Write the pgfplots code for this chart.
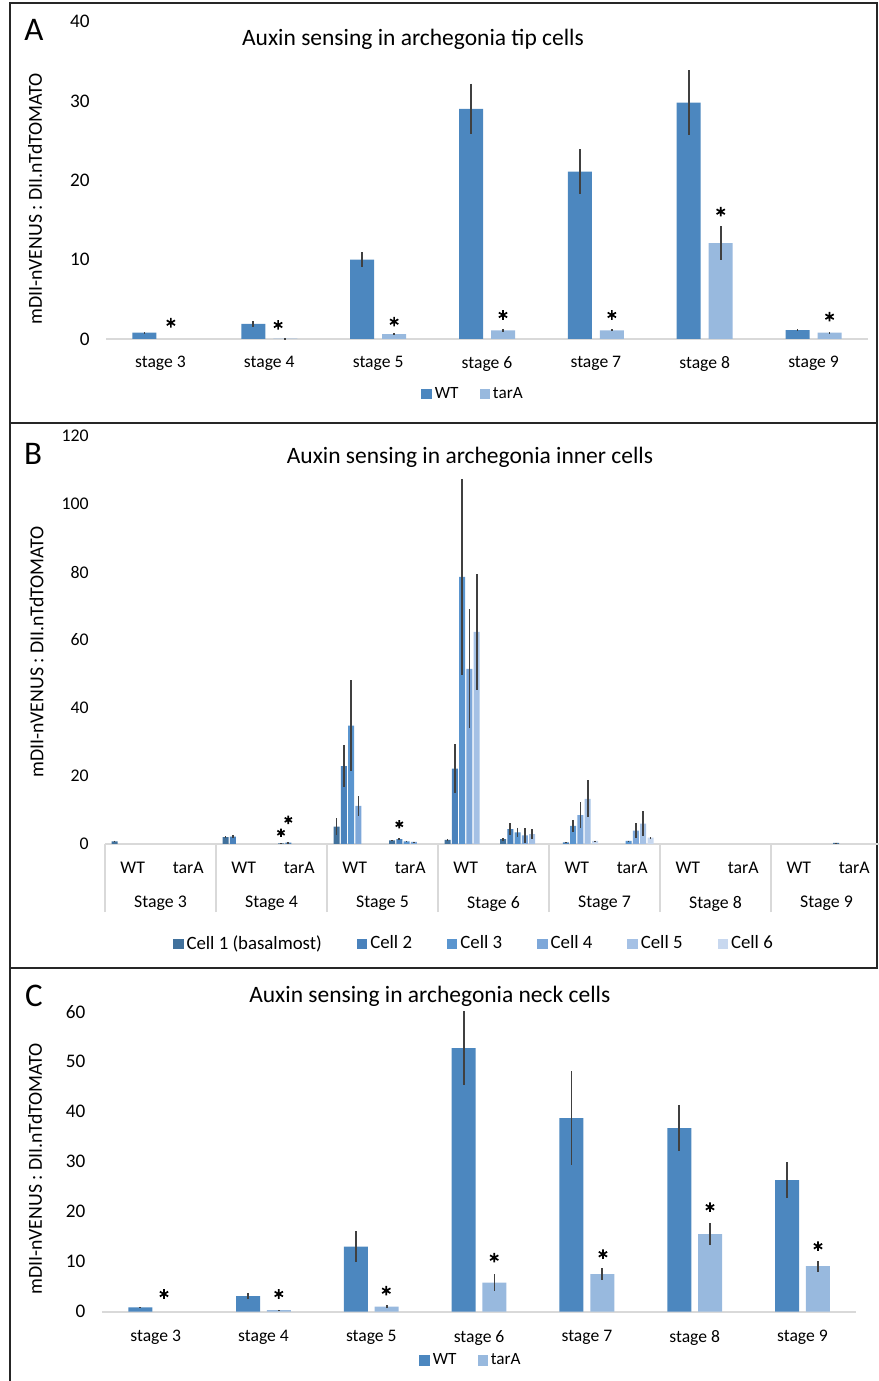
\documentclass[border=0pt]{standalone}
\usepackage{fontspec}
\setmainfont{Carlito}
\usepackage{pgfplots}
\pgfplotsset{compat=1.18}

\definecolor{wt}{HTML}{4C87BF}
\definecolor{ta}{HTML}{98B9DE}
\definecolor{c1}{HTML}{41719C}
\definecolor{c2}{HTML}{4A82BC}
\definecolor{c3}{HTML}{5A95CF}
\definecolor{c4}{HTML}{7DA7D9}
\definecolor{c5}{HTML}{A5C1E5}
\definecolor{c6}{HTML}{C8D8EF}
\definecolor{axgray}{HTML}{D9D9D9}
\definecolor{errgray}{HTML}{404040}

\newcommand{\fs}[1]{\fontsize{#1}{#1}\selectfont}

\pgfplotsset{
  base/.style={
    scale only axis, clip=false,
    axis x line*=bottom, axis y line*=left,
    y axis line style={draw=none},
    x axis line style={draw=axgray, line width=1pt},
    major tick length=0pt,
    tick align=outside,
    scaled y ticks=false,
    /pgf/number format/assume math mode=true,
    yticklabel style={inner sep=0pt, anchor=east, xshift=-8pt},
    xticklabel style={inner sep=0pt, anchor=north},
    legend style={draw=none, fill=none, legend columns=-1, inner sep=0pt, anchor=center,
      nodes={inner sep=1.5pt}},
    legend image code/.code={\fill[##1] (0pt,-2.6pt) rectangle (5.2pt,2.6pt);},
  },
  bars/.style n args={3}{ybar, bar width=#1, bar shift=#2, fill=#3, draw=none,
     error bars/.cd, y dir=both, y explicit, error mark=none,
     error bar style={draw=errgray, line width=0.85pt, xshift=#2}},
  ast/.style={only marks, mark=asterisk, mark size=#1, mark options={draw=black, line width=0.85pt}, forget plot},
}

\begin{document}
\begin{tikzpicture}
\path[use as bounding box] (0,0) rectangle (439pt,690.5pt);

% frames
\draw[line width=1.3pt, black!85] (5pt,689pt) rectangle (438.5pt,479pt);
\draw[line width=1.3pt, black!85] (5pt,479pt) rectangle (438.5pt,206.5pt);
\draw[line width=1.3pt, black!85] (5pt,206.5pt) -- (5pt,-1pt);

% ---------------- Panel A ----------------
\node[font=\fs{16.5}] at (17pt,675.5pt) {A};
\node[font=\fs{11.75}] at (206.5pt,671pt) {Auxin sensing in archegonia tip cells};
\node[rotate=90, font=\fs{9.9}] at (17.5pt,591pt) {mDII-nVENUS : DII.nTdTOMATO};

\begin{axis}[base,
  at={(53pt,521pt)}, anchor=south west,
  width=381pt, height=158.65pt,
  xmin=-0.5, xmax=6.5, ymin=0, ymax=40,
  ytick={0,10,...,40},
  xtick={0,...,6},
  xticklabels={stage 3,stage 4,stage 5,stage 6,stage 7,stage 8,stage 9},
  yticklabel style={font=\fs{9.6}},
  xticklabel style={font=\fs{8.8}, yshift=-8.5pt},
  legend style={at={(0.4824,-0.174)}, font=\fs{8.6},
    /tikz/every even column/.append style={column sep=9pt}},
]
\addplot[bars={12pt}{-8pt}{wt}]
 coordinates {(0,0.8) +- (0,0.08) (1,1.9) +- (0,0.35) (2,10.0) +- (0,0.95)
   (3,29.0) +- (0,3.2) (4,21.1) +- (0,2.8) (5,29.8) +- (0,4.1) (6,1.13) +- (0,0.1)};
\addplot[bars={12pt}{8pt}{ta}]
 coordinates {(1,0.05) +- (0,0.02) (2,0.6) +- (0,0.1)
   (3,1.1) +- (0,0.2) (4,1.1) +- (0,0.15) (5,12.1) +- (0,2.2) (6,0.8) +- (0,0.08)};
\legend{WT,tarA}
\addplot[ast=2.4pt] coordinates {(0.096,2.05) (1.081,1.77) (2.147,2.18) (3.147,3.03)
   (4.147,3.03) (5.147,16.05) (6.147,2.81)};
\end{axis}

% ---------------- Panel B ----------------
\node[font=\fs{16.5}] at (16.5pt,463.5pt) {B};
\node[font=\fs{11.75}] at (235pt,462pt) {Auxin sensing in archegonia inner cells};
\node[rotate=90, font=\fs{9.9}] at (18.3pt,364.5pt) {mDII-nVENUS : DII.nTdTOMATO};

\begin{axis}[base,
  at={(52.5pt,268.5pt)}, anchor=south west,
  width=388.5pt, height=204pt,
  xmin=-0.5, xmax=13.5, ymin=0, ymax=120,
  ytick={0,20,...,120},
  xtick={0,...,13},
  xticklabels={WT,tarA,WT,tarA,WT,tarA,WT,tarA,WT,tarA,WT,tarA,WT,tarA},
  yticklabel style={font=\fs{8.9}},
  xticklabel style={font=\fs{8.9}, yshift=-9pt},
  minor xtick={-0.5,1.5,...,13.5},
  minor tick length=34pt,
  minor tick style={draw=axgray, line width=1pt},
  extra x ticks={0.5,2.5,...,12.5},
  extra x tick labels={Stage 3,Stage 4,Stage 5,Stage 6,Stage 7,Stage 8,Stage 9},
  extra x tick style={major tick length=0pt, tick label style={yshift=-17pt}},
  legend style={at={(0.4755,-0.245)}, font=\fs{9.4},
    /tikz/every even column/.append style={column sep=16pt}},
]
\addplot[bars={3pt}{-9.125pt}{c1}]
 coordinates {(0,0.8) +- (0,0.2) (2,2.0) +- (0,0.3) (3,0.2) +- (0,0.02) (4,5.1) +- (0,2.5)
   (5,1.1) +- (0,0.1) (6,1.2) +- (0,0.3) (7,1.4) +- (0,0.4) (13,0.3) +- (0,0.02)};
\addplot[bars={3pt}{-5.475pt}{c2}]
 coordinates {(2,2.2) +- (0,0.3) (3,0.4) +- (0,0.05) (4,22.9) +- (0,6.1) (5,1.4) +- (0,0.3)
   (6,22.2) +- (0,7.1) (7,4.4) +- (0,1.75) (8,0.5) +- (0,0.1)};
\addplot[bars={3pt}{-1.825pt}{c3}]
 coordinates {(4,34.8) +- (0,13.3) (5,0.8) +- (0,0.1) (6,78.6) +- (0,28.8) (7,3.4) +- (0,1.4)
   (8,5.3) +- (0,1.8) (9,0.9) +- (0,0.1)};
\addplot[bars={3pt}{1.825pt}{c4}]
 coordinates {(4,11.2) +- (0,2.85) (5,0.6) +- (0,0.1) (6,51.5) +- (0,17.5) (7,2.5) +- (0,2.1)
   (8,8.5) +- (0,3.9) (9,3.9) +- (0,2.25)};
\addplot[bars={3pt}{5.475pt}{c5}]
 coordinates {(6,62.4) +- (0,17.0) (7,2.9) +- (0,1.55) (8,13.3) +- (0,5.4) (9,6.0) +- (0,3.65)};
\addplot[bars={3pt}{9.125pt}{c6}]
 coordinates {(8,0.9) +- (0,0.05) (9,1.9) +- (0,0.05)};
\legend{Cell 1 (basalmost),Cell 2,Cell 3,Cell 4,Cell 5,Cell 6}
\addplot[ast=2.1pt] coordinates {(2.671,3.3) (2.803,7.1) (4.803,5.8)};
\end{axis}

% ---------------- Panel C ----------------
\node[font=\fs{16.5}] at (17pt,192.5pt) {C};
\node[font=\fs{11.75}] at (214.9pt,192.5pt) {Auxin sensing in archegonia neck cells};
\node[rotate=90, font=\fs{9.9}] at (17.5pt,106pt) {mDII-nVENUS : DII.nTdTOMATO};

\begin{axis}[base,
  at={(50.9pt,34.65pt)}, anchor=south west,
  width=377.3pt, height=150pt,
  xmin=-0.5, xmax=6.5, ymin=0, ymax=60,
  ytick={0,10,...,60},
  xtick={0,...,6},
  xticklabels={stage 3,stage 4,stage 5,stage 6,stage 7,stage 8,stage 9},
  yticklabel style={font=\fs{9.6}},
  xticklabel style={font=\fs{8.8}, yshift=-9.2pt},
  legend style={at={(0.49,-0.163)}, font=\fs{8.6},
    /tikz/every even column/.append style={column sep=9pt}},
]
\addplot[bars={12pt}{-7.7pt}{wt}]
 coordinates {(0,0.87) +- (0,0.08) (1,3.1) +- (0,0.65) (2,13.0) +- (0,3.1)
   (3,52.7) +- (0,7.4) (4,38.7) +- (0,9.4) (5,36.7) +- (0,4.65) (6,26.3) +- (0,3.6)};
\addplot[bars={12pt}{7.7pt}{ta}]
 coordinates {(1,0.33) +- (0,0.05) (2,1.0) +- (0,0.35)
   (3,5.8) +- (0,1.7) (4,7.5) +- (0,1.25) (5,15.5) +- (0,2.25) (6,9.1) +- (0,1.1)};
\legend{WT,tarA}
\addplot[ast=2.4pt] coordinates {(0.077,3.54) (1.142,3.54) (2.139,4.2) (3.14,10.8)
   (4.149,11.5) (5.142,20.9) (6.144,13.1)};
\end{axis}
\end{tikzpicture}
\end{document}
